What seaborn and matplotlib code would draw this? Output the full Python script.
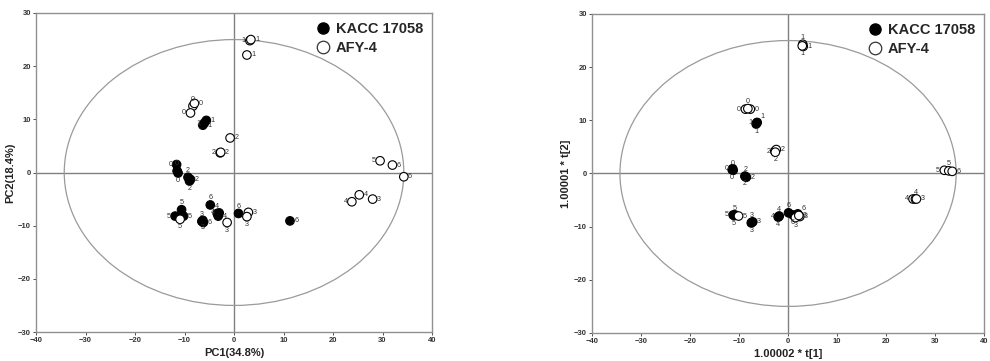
import numpy as np
import pandas as pd
import matplotlib
matplotlib.use("Agg")
import matplotlib.pyplot as plt
from matplotlib.patches import Ellipse
from matplotlib.lines import Line2D
import seaborn as sns

# ---------------- data ----------------
groups = ["KACC 17058", "AFY-4"]

# Left panel: PCA scores
pca_kacc_x = [-11.6, -11.5, -11.3, -5.6, -6.0, -6.3, -9.3, -8.8, -9.0, -6.5, -6.3, -6.2,
              -3.4, -3.2, -3.0, -11.9, -10.6, -10.2, -4.8, 0.9, 11.3]
pca_kacc_y = [1.5, 0.3, -0.1, 9.8, 9.3, 8.9, -0.9, -1.3, -1.6, -9.2, -9.0, -9.4,
              -7.7, -8.2, -7.6, -8.2, -7.0, -8.2, -6.1, -7.7, -9.1]
pca_kacc_lab = ["0", "0", "0", "1", "1", "1", "2", "2", "2", "3", "3", "6",
                "4", "4", "4", "5", "5", "5", "6", "6", "6"]
pca_kacc_pos = ["l", "t", "b", "r", "l", "r", "t", "r", "b", "t", "b", "r",
                "t", "r", "l", "l", "t", "r", "t", "t", "r"]

pca_afy_x = [-8.3, -8.8, -8.0, 3.2, 3.4, 2.6, -0.8, -2.8, -2.7, 2.9, 2.6, -1.4,
             23.8, 25.3, 28.0, -10.9, 29.5, 32.0, 34.3]
pca_afy_y = [12.5, 11.2, 13.0, 24.8, 25.0, 22.1, 6.5, 3.7, 3.8, -7.5, -8.3, -9.4,
             -5.5, -4.2, -5.0, -8.8, 2.2, 1.4, -0.8]
pca_afy_lab = ["0", "0", "0", "1", "1", "1", "2", "2", "2", "3", "3", "3",
               "4", "4", "3", "5", "5", "6", "6"]
pca_afy_pos = ["t", "l", "r", "l", "r", "r", "r", "l", "r", "r", "b", "b",
               "l", "r", "r", "b", "l", "r", "r"]

# Right panel: OPLS-DA scores
opls_kacc_x = [-11.3, -11.2, -11.4, -6.4, -6.3, -6.5, -8.7, -8.5, -8.8, -7.4, -7.2, -7.5,
               -1.9, -1.8, -2.0, -11.2, -10.8, -11.0, 0.1, 2.0, 1.0]
opls_kacc_y = [0.9, 0.6, 0.7, 9.5, 9.6, 9.3, -0.6, -0.7, -0.5, -9.2, -9.1, -9.3,
               -8.1, -8.0, -8.2, -7.8, -7.8, -7.9, -7.4, -7.6, -7.8]
opls_kacc_lab = ["0", "0", "0", "1", "1", "1", "2", "2", "2", "3", "3", "3",
                 "4", "4", "4", "5", "5", "5", "6", "6", "6"]
opls_kacc_pos = ["l", "t", "b", "l", "tr", "b", "t", "r", "b", "t", "r", "b",
                 "l", "t", "b", "l", "t", "b", "t", "tr", "b"]

opls_afy_x = [-8.7, -7.7, -8.2, 3.0, 3.1, 2.9, -2.7, -2.4, -2.6, 2.4, 1.5, 2.2,
              25.5, 26.0, 26.2, -10.1, 31.9, 32.8, 33.5]
opls_afy_y = [12.1, 12.1, 12.2, 24.3, 23.9, 24.0, 4.2, 4.5, 4.0, -8.1, -8.3, -7.9,
              -4.8, -4.8, -4.8, -8.0, 0.6, 0.5, 0.4]
opls_afy_lab = ["0", "0", "0", "1", "1", "1", "2", "2", "2", "3", "3", "3",
                "4", "4", "3", "5", "5", "5", "6"]
opls_afy_pos = ["l", "r", "t", "t", "r", "b", "l", "r", "b", "r", "b", "r",
                "l", "t", "r", "r", "l", "t", "r"]

# Hotelling T2 ellipse semi-axes
ellipse_axes = [34.3, 25.0]

x_ticks = [-40, -30, -20, -10, 0, 10, 20, 30, 40]
y_ticks = [-30, -20, -10, 0, 10, 20, 30]


def make_df(kx, ky, kl, kp, ax_, ay_, al, ap):
    d1 = pd.DataFrame({"x": kx, "y": ky, "lab": kl, "pos": kp, "group": groups[0]})
    d2 = pd.DataFrame({"x": ax_, "y": ay_, "lab": al, "pos": ap, "group": groups[1]})
    return pd.concat([d1, d2], ignore_index=True)


df_pca = make_df(pca_kacc_x, pca_kacc_y, pca_kacc_lab, pca_kacc_pos,
                 pca_afy_x, pca_afy_y, pca_afy_lab, pca_afy_pos)
df_opls = make_df(opls_kacc_x, opls_kacc_y, opls_kacc_lab, opls_kacc_pos,
                  opls_afy_x, opls_afy_y, opls_afy_lab, opls_afy_pos)

# ---------------- style ----------------
sns.set_theme(style="white")
plt.rcParams["font.family"] = ["Liberation Sans", "DejaVu Sans"]

fig = plt.figure(figsize=(9.9, 3.61), dpi=100)
ax1 = fig.add_axes([0.0364, 0.0803, 0.4, 0.8837])
ax2 = fig.add_axes([0.598, 0.0776, 0.396, 0.8837])

offsets = {"l": (-4.5, 0), "r": (4.5, 0), "t": (0, 5), "b": (0, -5.5),
           "tr": (4, 4), "tl": (-4, 4)}
palette = {groups[0]: "black", groups[1]: "white"}


def draw(ax, df, xlabel, ylabel):
    ax.axhline(0, color="#808080", lw=1.0, zorder=1)
    ax.axvline(0, color="#808080", lw=1.0, zorder=1)
    ax.add_patch(Ellipse((0, 0), 2 * ellipse_axes[0], 2 * ellipse_axes[1],
                         fill=False, ec="#9a9a9a", lw=0.9, zorder=1))
    sns.scatterplot(data=df, x="x", y="y", hue="group", palette=palette,
                    edgecolor="black", linewidth=0.8, s=38, ax=ax,
                    legend=False, zorder=3)
    for _, r in df.iterrows():
        dx, dy = offsets[r["pos"]]
        ax.annotate(r["lab"], (r["x"], r["y"]), xytext=(dx, dy),
                    textcoords="offset points", ha="center", va="center",
                    fontsize=5.2, color="#333333", zorder=4)
    ax.set_xlim(-40, 40)
    ax.set_ylim(-30, 30)
    ax.set_xticks(x_ticks)
    ax.set_yticks(y_ticks)
    ax.tick_params(axis="both", labelsize=5.5, length=2, width=0.6,
                   direction="out", colors="#333333", pad=1.5, bottom=True, left=True)
    for t in ax.get_xticklabels() + ax.get_yticklabels():
        t.set_fontweight("bold")
    for sp in ax.spines.values():
        sp.set_color("#909090")
        sp.set_linewidth(1.0)
    ax.set_xlabel(xlabel, fontsize=8, fontweight="bold", color="#222222", labelpad=3)
    ax.set_ylabel(ylabel, fontsize=8, fontweight="bold", color="#222222", labelpad=2)
    handles = [Line2D([], [], ls="none", marker="o", ms=8, mfc="black", mec="black"),
               Line2D([], [], ls="none", marker="o", ms=9, mfc="white", mec="#333333", mew=0.9)]
    ax.legend(handles, groups, loc="upper right", frameon=False,
              prop={"size": 10.5, "weight": "bold"}, handletextpad=0.3,
              labelspacing=0.35, borderaxespad=0.2, handlelength=1.2)


draw(ax1, df_pca, "PC1(34.8%)", "PC2(18.4%)")
draw(ax2, df_opls, "1.00002 * t[1]", "1.00001 * t[2]")

fig.savefig("out.png", dpi=100)
